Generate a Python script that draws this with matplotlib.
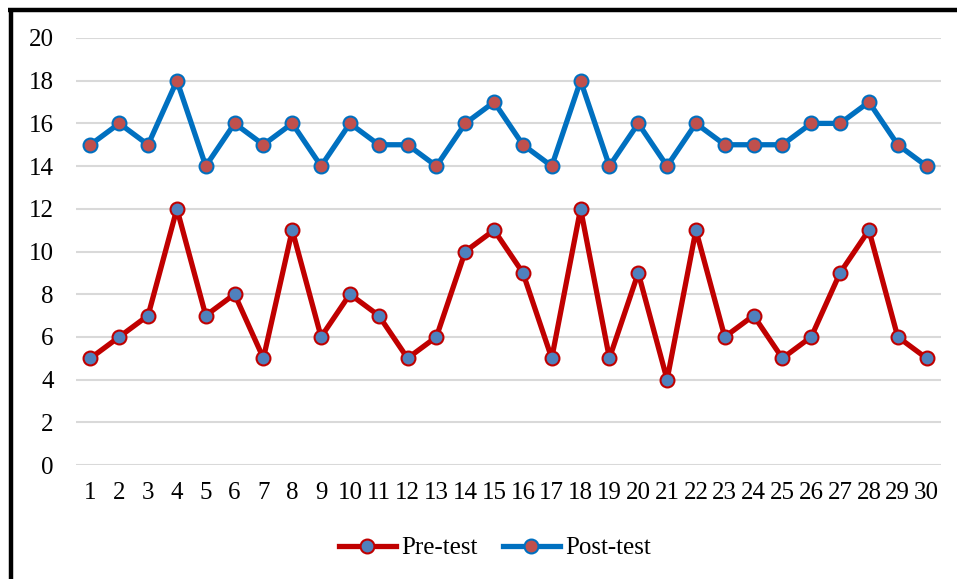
import matplotlib
matplotlib.use("Agg")
import matplotlib.pyplot as plt
from matplotlib.lines import Line2D

participants = list(range(1, 31))
pre_test = [5, 6, 7, 12, 7, 8, 5, 11, 6, 8, 7, 5, 6, 10, 11, 9, 5, 12, 5, 9, 4, 11, 6, 7, 5, 6, 9, 11, 6, 5]
post_test = [15, 16, 15, 18, 14, 16, 15, 16, 14, 16, 15, 15, 14, 16, 17, 15, 14, 18, 14, 16, 14, 16, 15, 15, 15, 16, 16, 17, 15, 14]
y_ticks = list(range(0, 21, 2))

plt.rcParams['font.family'] = ['Liberation Serif', 'DejaVu Serif']

W, H = 957, 579
fig = plt.figure(figsize=(W / 100, H / 100), dpi=100)
ax = fig.add_axes([76 / W, 1 - 465 / H, (941 - 76) / W, (465 - 38) / H])

ax.plot(participants, pre_test, color='#C00000', lw=3.8, marker='o', ms=10,
        mfc='#4F81BD', mec='#C00000', mew=1.5, label='Pre-test', zorder=3)
ax.plot(participants, post_test, color='#0070C0', lw=3.8, marker='o', ms=10,
        mfc='#C0504D', mec='#0070C0', mew=1.5, label='Post-test', zorder=3)

ax.set_xlim(0.5, 30.5)
ax.set_ylim(0, 20)
ax.set_yticks(y_ticks)
ax.set_xticks(participants)
ax.set_xticklabels([str(p) for p in participants])
ax.grid(axis='y', color='#D9D9D9', lw=1.5)
ax.set_axisbelow(True)
for s in ax.spines.values():
    s.set_visible(False)
ax.tick_params(axis='both', length=0, labelsize=18, colors='black')
ax.tick_params(axis='y', pad=16)
ax.tick_params(axis='x', pad=12)

leg = fig.legend(loc='center', bbox_to_anchor=(0.517, 1 - 548 / H), ncol=2, frameon=False,
                 fontsize=18, handlelength=2.3, columnspacing=1.0, handletextpad=0.2)

# border lines
fig.add_artist(Line2D([10.5 / W, 10.5 / W], [0, 1 - 8 / H], transform=fig.transFigure,
                      color='black', lw=3.2, solid_capstyle='butt'))
fig.add_artist(Line2D([8 / W, 1], [1 - 10 / H, 1 - 10 / H], transform=fig.transFigure,
                      color='black', lw=3.2, solid_capstyle='butt'))

fig.savefig('out.png', dpi=100)
